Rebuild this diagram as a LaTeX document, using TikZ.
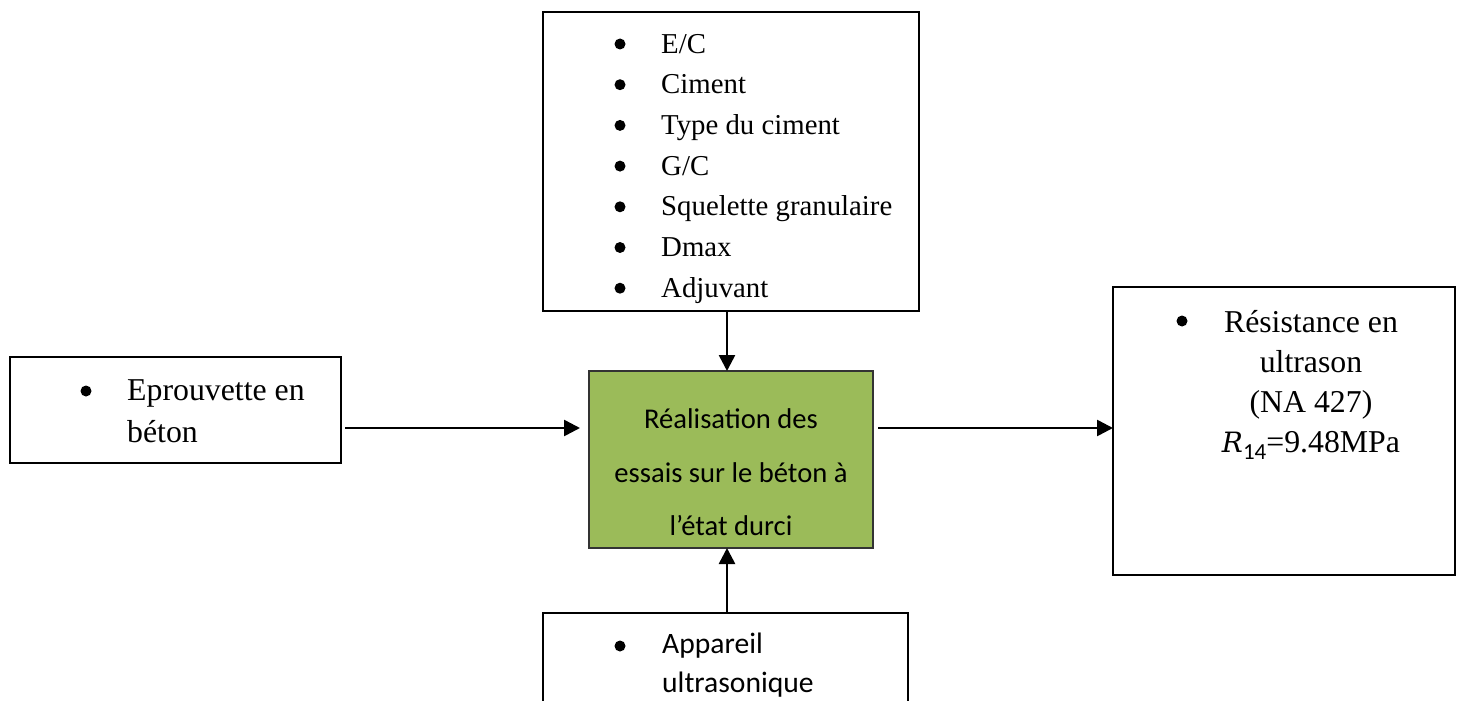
\documentclass[tikz,border=0pt]{standalone}
\usepackage{fontspec}
\setmainfont{Liberation Serif}
\newfontfamily\calib{Carlito}
\newfontfamily\dejaserif{DejaVu Serif}
\usetikzlibrary{arrows.meta}
\definecolor{olivegreen}{HTML}{9BBB59}
\tikzset{
  box/.style={draw=black, line width=2pt, minimum width=#1, inner sep=0pt, outer sep=0pt},
  gbox/.style={draw=black!80, line width=2pt, fill=olivegreen, inner sep=0pt, outer sep=0pt},
  arr/.style={line width=2.6pt, -{Triangle[length=16pt,width=16pt]}},
  serif/.style={font=\fontsize{28.8}{32}\selectfont, inner sep=0pt, anchor=base west},
  bigserif/.style={font=\fontsize{31.8}{34}\selectfont, inner sep=0pt, anchor=base west},
  sans/.style={font=\calib\fontsize{28.6}{32}\selectfont, inner sep=0pt, anchor=base},
  sansw/.style={font=\calib\fontsize{29.6}{32}\selectfont, inner sep=0pt, anchor=base west},
  bul/.style={circle, fill=black, minimum size=11pt, inner sep=0pt},
}
\begin{document}
\begin{tikzpicture}[x=1pt,y=-1pt]
\useasboundingbox (0,0) rectangle (1464,701);
\clip (0,0) rectangle (1464,701);
% boxes
\node[box=376pt, minimum height=299pt] (top) at (731,161.5) {};
\node[box=331pt, minimum height=106pt] (left) at (175.5,410) {};
\node[gbox, minimum width=284pt, minimum height=177pt] (mid) at (731,459.5) {};
\node[box=342pt, minimum height=288pt] (right) at (1284,431) {};
\node[box=365pt, minimum height=200pt] (bot) at (725.5,713) {};
% top box text
\foreach \t [count=\i from 0] in {E/C,Ciment,Type du ciment,G/C,Squelette granulaire,Dmax,Adjuvant}{
  \node[bul] (tb\i) at (620,44+40.7*\i) {};
  \node[serif] (tt\i) at (661,53+40.7*\i) {\t};
}
% left box text
\node[bul] (lb) at (86,391) {};
\node[bigserif] (lt1) at (127,400) {Eprouvette en};
\node[bigserif] (lt2) at (127,442) {béton};
% middle text
\node[sans] (m1) at (731,428) {Réalisation des};
\node[sans] (m2) at (731,482) {essais sur le béton à};
\node[sans] (m3) at (731,535) {l’état durci};
% right box text
\node[bul] (rb) at (1182,321) {};
\node[bigserif, anchor=base] (r1) at (1311,332) {Résistance en};
\node[bigserif, anchor=base] (r2) at (1311,372) {ultrason};
\node[bigserif, anchor=base] (r3) at (1311,412) {(NA 427)};
\node[bigserif, anchor=base] (r4) at (1311,452) {{\dejaserif\itshape\fontsize{28}{28}\selectfont R}\raisebox{-7pt}{\calib\fontsize{23}{23}\selectfont 14}=9.48MPa};
% bottom box text
\node[bul] (bb) at (620,646) {};
\node[sansw] (b1) at (662,653) {Appareil};
\node[sansw] (b2) at (662,692) {ultrasonique};
% connectors
\coordinate (ay) at (0,428);
\coordinate (vx) at (727,0);
\draw[arr] (top.south -| vx) -- (mid.north -| vx);
\draw[arr] (bot.north -| vx) -- (mid.south -| vx);
\draw[arr] ([xshift=4pt]left.east |- ay) -- ([xshift=-9pt]mid.west |- ay);
\draw[arr] ([xshift=5pt]mid.east |- ay) -- (right.west |- ay);
\end{tikzpicture}
\end{document}
